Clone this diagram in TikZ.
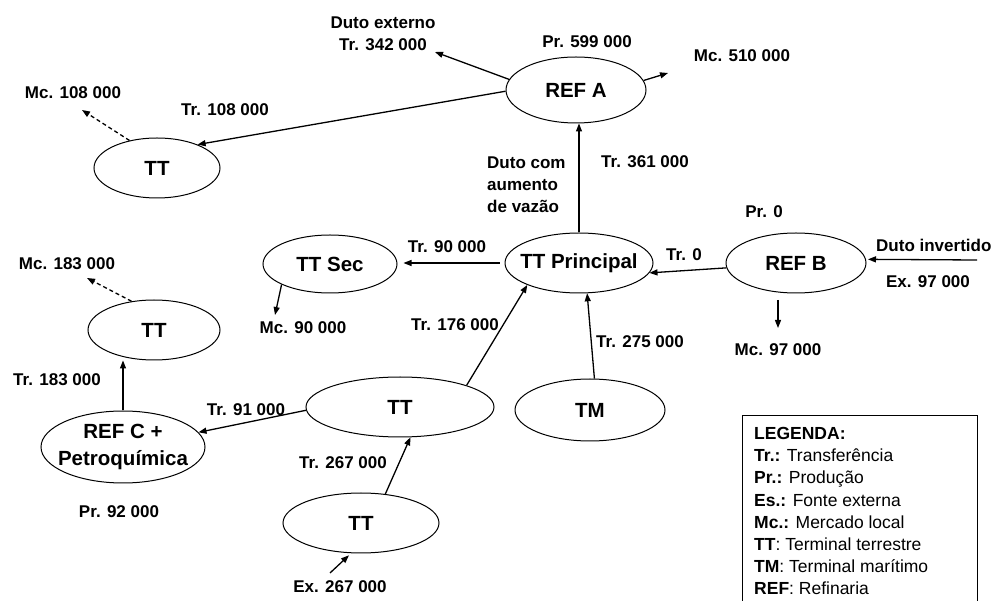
\documentclass[tikz,border=0pt]{standalone}
\usepackage{fontspec}
\setmainfont{Liberation Sans}
\usetikzlibrary{shapes.geometric,arrows.meta}
\newcommand{\zerowd}[1]{\makebox[0pt]{#1}}
\begin{document}
\begin{tikzpicture}[x=1pt,y=-1pt,
  ell/.style={draw, ellipse, line width=1pt, inner sep=0pt, align=center,
    font=\fontsize{20.5}{24}\selectfont\bfseries},
  lbl/.style={inner sep=0pt, align=center, font=\fontsize{17}{22}\selectfont\bfseries},
  arr/.style={line width=1.3pt, -{Triangle[length=8pt,width=6pt]}},
  darr/.style={arr, dash pattern=on 4pt off 3pt}
]
\useasboundingbox (0,0) rectangle (997,601);
% ellipses
\node[ell, minimum width=140pt, minimum height=66pt] (refA) at (576,90) {\zerowd{REF A}};
\node[ell, minimum width=126pt, minimum height=60pt] (tt1) at (157,168) {\zerowd{TT}};
\node[ell, minimum width=134pt, minimum height=58pt] (ttsec) at (330,264) {\zerowd{TT Sec}};
\node[ell, minimum width=148pt, minimum height=60pt] (ttp) at (579,263) {\zerowd{TT Principal}};
\node[ell, minimum width=140pt, minimum height=60pt] (refB) at (796,263) {\zerowd{REF B}};
\node[ell, minimum width=132pt, minimum height=60pt] (ttl) at (154,330) {\zerowd{TT}};
\node[ell, minimum width=188pt, minimum height=60pt] (ttm) at (400,407) {\zerowd{TT}};
\node[ell, minimum width=150pt, minimum height=62pt] (tm) at (590,410) {\zerowd{TM}};
\node[ell, minimum width=164pt, minimum height=72pt, font=\fontsize{20.5}{27}\selectfont\bfseries] (refC) at (123,447) {\zerowd{REF C +}\\\zerowd{Petroquímica}};
\node[ell, minimum width=156pt, minimum height=60pt] (ttb) at (361,523) {\zerowd{TT}};
% labels
\node[lbl] (dext) at (383,34) {Duto externo\\Tr. 342 000};
\node[lbl] (mc108) at (73,93) {Mc. 108 000};
\node[lbl] (tr108) at (225,110) {Tr. 108 000};
\node[lbl] (pr599) at (587,42) {Pr. 599 000};
\node[lbl] (mc510) at (742,56) {Mc. 510 000};
\node[lbl, align=left, anchor=west] (dcom) at (487,185) {Duto com\\aumento\\de vazão};
\node[lbl] (tr361) at (645,162) {Tr. 361 000};
\node[lbl] (pr0) at (764,212) {Pr. 0};
\node[lbl] (tr90) at (447,247) {Tr. 90 000};
\node[lbl] (mc183) at (67,264) {Mc. 183 000};
\node[lbl] (mc90) at (303,328) {Mc. 90 000};
\node[lbl] (tr176) at (455,325) {Tr. 176 000};
\node[lbl] (tr183) at (57,380) {Tr. 183 000};
\node[lbl] (tr91) at (246,410) {Tr. 91 000};
\node[lbl] (tr0) at (684,255) {Tr. 0};
\node[lbl, anchor=west] (dinv) at (876,245) {Duto invertido};
\node[lbl] (ex97) at (928,282) {Ex. 97 000};
\node[lbl] (tr275) at (640,342) {Tr. 275 000};
\node[lbl] (mc97) at (778,350) {Mc. 97 000};
\node[lbl] (tr267) at (343,463) {Tr. 267 000};
\node[lbl] (pr92) at (119,512) {Pr. 92 000};
\node[lbl] (ex267) at (340,587) {Ex. 267 000};
% legend
\node[draw, line width=1pt, anchor=north west, minimum width=235pt, minimum height=260pt, inner sep=0pt] (legbox) at (742,415) {};
\node[anchor=north west, inner sep=0pt, align=left, font=\fontsize{17.5}{22.2}\selectfont] (legtxt) at (754,427)
  {\textbf{LEGENDA:}\\
   \textbf{Tr.:} Transferência\\
   \textbf{Pr.:} Produção\\
   \textbf{Es.:} Fonte externa\\
   \textbf{Mc.:} Mercado local\\
   \textbf{TT}: Terminal terrestre\\
   \textbf{TM}: Terminal marítimo\\
   \textbf{REF}: Refinaria};
% free ends
\coordinate (cext) at (435,52);
\coordinate (c510) at (668,73);
\coordinate (c108) at (82,110);
\coordinate (c90) at (275,315);
\coordinate (cinv) at (977,260);
\coordinate (c97a) at (778,300);
\coordinate (c97b) at (778,328);
\coordinate (c183) at (87,278);
\coordinate (cex) at (330,573);
% connectors
\draw[arr] (refA.171) -- (cext);
\draw[arr] (refA.181) -- (tt1.30);
\draw[arr] (refA.8) -- (c510);
\draw[arr] (ttp.north) -- (ttp.north |- refA.south);
\draw[darr] (tt1.135) -- (c108);
\draw[arr, shorten <=5pt, shorten >=6pt] (ttp.west) -- (ttp.west -| ttsec.east);
\draw[arr] (ttsec.203) -- (c90);
\draw[arr] (refB.184) -- (ttp.-8);
\draw[arr, shorten >=2pt] (cinv) -- (refB.3);
\draw[arr] (c97a) -- (c97b);
\draw[arr] (ttm.18) -- (ttp.203);
\draw[arr] (tm.82) -- (ttp.285);
\draw[arr] (ttm.182) -- (refC.11);
\draw[arr] (refC.north) -- (refC.north |- ttl.south);
\draw[darr] (ttl.128) -- (c183);
\draw[arr] (ttb.50) -- (ttm.289);
\draw[arr, shorten >=3pt] (cex) -- (ttb.252);
\end{tikzpicture}
\end{document}
